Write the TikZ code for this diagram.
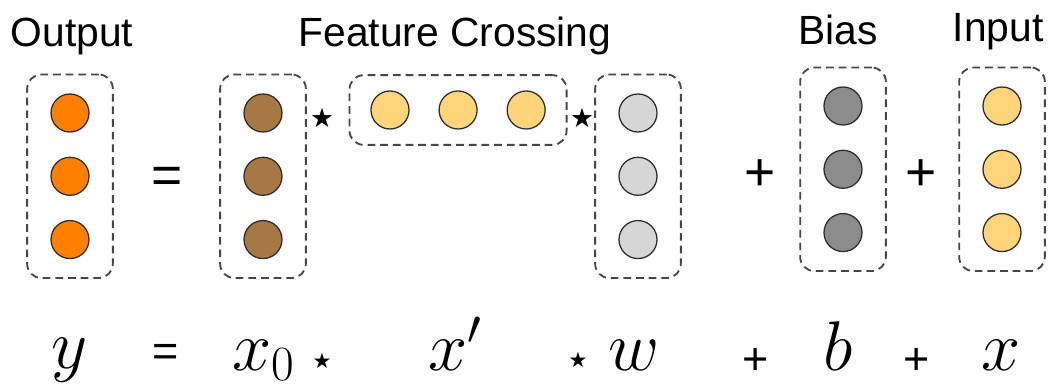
\documentclass[tikz,border=0pt]{standalone}
\usepackage{fix-cm}
\usepackage{fontspec}
\setmainfont{Liberation Sans}
\newfontfamily\symfont{DejaVu Sans}
\usepackage{tikz}
\usetikzlibrary{positioning,fit}
\definecolor{outorange}{RGB}{255,128,0}
\definecolor{crossbrown}{RGB}{166,120,68}
\definecolor{featyellow}{RGB}{255,212,122}
\definecolor{weightgray}{RGB}{214,214,214}
\definecolor{biasgray}{RGB}{140,140,140}
\definecolor{unitline}{RGB}{45,45,45}
\definecolor{groupline}{RGB}{70,70,70}
\tikzset{
    unit/.style={draw=unitline, circle, line width=0.9pt, minimum size=0.95cm, inner sep=0pt},
    group/.style={draw=groupline, dash pattern=on 5.5pt off 3.5pt, line width=1.3pt, rounded corners=10pt, inner xsep=0.58cm, inner ysep=0.47cm},
    title/.style={anchor=base, inner sep=0pt, font=\fontsize{29}{34}\selectfont},
    op/.style={inner sep=0pt, font=\fontsize{38}{40}\selectfont},
    smallop/.style={inner sep=0pt, font=\fontsize{32}{34}\selectfont},
    mult/.style={inner sep=0pt, font=\symfont\fontsize{19}{21}\selectfont},
    smallmult/.style={inner sep=0pt, font=\symfont\fontsize{15}{17}\selectfont},
    eq/.style={anchor=base, inner sep=0pt, font=\fontsize{50}{54}\selectfont}
}

\begin{document}
\begin{tikzpicture}[x=0.025cm, y=-0.025cm, node distance=0.6cm]
\useasboundingbox (0,0) rectangle (1052,387);

% titles
\node[title] (tout) at (72,47) {Output};
\node[title] (tcross) at (455,47) {Feature Crossing};
\node[title] (tbias) at (838,45) {Bias};
\node[title] (tin) at (998,42) {Input};

% output y
\node[unit, fill=outorange] (o1) at (70,113) {};
\node[unit, fill=outorange, below=of o1] (o2) {};
\node[unit, fill=outorange, below=of o2] (o3) {};
\node[group, fit=(o1)(o3)] (gout) {};

% x_0
\node[unit, fill=crossbrown] (a1) at (263,113) {};
\node[unit, fill=crossbrown, below=of a1] (a2) {};
\node[unit, fill=crossbrown, below=of a2] (a3) {};
\node[group, fit=(a1)(a3)] (gx0) {};

% x' (transposed)
\node[unit, fill=featyellow] (c1) at (390,110) {};
\node[unit, fill=featyellow, right=0.72cm of c1] (c2) {};
\node[unit, fill=featyellow, right=0.72cm of c2] (c3) {};
\node[group, fit=(c1)(c3), inner xsep=0.52cm, inner ysep=0.38cm] (gxt) {};

% w
\node[unit, fill=weightgray] (w1) at (638,113) {};
\node[unit, fill=weightgray, below=of w1] (w2) {};
\node[unit, fill=weightgray, below=of w2] (w3) {};
\node[group, fit=(w1)(w3)] (gw) {};

% b
\node[unit, fill=biasgray] (b1) at (843,106) {};
\node[unit, fill=biasgray, below=of b1] (b2) {};
\node[unit, fill=biasgray, below=of b2] (b3) {};
\node[group, fit=(b1)(b3)] (gb) {};

% x
\node[unit, fill=featyellow] (i1) at (1002,106) {};
\node[unit, fill=featyellow, below=of i1] (i2) {};
\node[unit, fill=featyellow, below=of i2] (i3) {};
\node[group, fit=(i1)(i3)] (gin) {};

% operators between the groups
\node[op] (eqtop) at (167,180) {=};
\node[mult] (star1) at (322,118) {★};
\node[mult] (star2) at (582,118) {★};
\node[op] (plus1) at (760,175) {+};
\node[op] (plus2) at (921,175) {+};

% formula
\node[eq] (fy) at (70,368) {$y$};
\node[smallop] (feq) at (166,355) {=};
\node[eq] (fx0) at (264,370) {$x_0$};
\node[smallmult] (fstar1) at (322,361) {★};
\node[eq] (fxt) at (455,370) {$x'$};
\node[smallmult] (fstar2) at (578,360) {★};
\node[eq] (fw) at (634,370) {$w$};
\node[smallop] (fplus1) at (756,362) {+};
\node[eq] (fb) at (838,370) {$b$};
\node[smallop] (fplus2) at (917,362) {+};
\node[eq] (fx) at (1001,370) {$x$};
\end{tikzpicture}
\end{document}
